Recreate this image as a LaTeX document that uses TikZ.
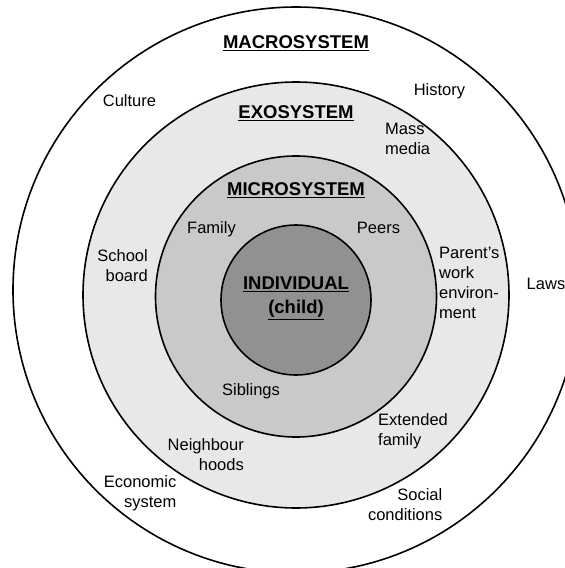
\documentclass[tikz,border=0pt]{standalone}
\usepackage{fontspec}
\setmainfont{Liberation Sans}
\usetikzlibrary{positioning}

\definecolor{exogray}{gray}{0.91}
\definecolor{microgray}{gray}{0.79}
\definecolor{indivgray}{gray}{0.57}

\begin{document}
\begin{tikzpicture}[x=1pt, y=-1pt,
        ring/.style={draw, line width=1.6pt},
        systitle/.style={font=\fontsize{18.5}{24}\selectfont\bfseries, inner sep=0pt, align=center},
        factor/.style={font=\fontsize{16.5}{20}\selectfont, inner sep=0pt, align=center}
    ]
        \useasboundingbox (0,0) rectangle (565,568);

        % Các vòng tròn
        \coordinate (cmacro) at (296,290);
        \coordinate (cexo) at (296,295);
        \coordinate (cmicro) at (296,296.5);
        \coordinate (cindiv) at (296,300);
        \draw[ring] (cmacro) circle[radius=283pt];
        \draw[ring, fill=exogray] (cexo) circle[radius=213pt];
        \draw[ring, fill=microgray] (cmicro) circle[radius=140.5pt];
        \draw[ring, fill=indivgray] (cindiv) circle[radius=75pt];

        % Tên các hệ
        \node[systitle] (macro) at (296,43) {\underline{MACROSYSTEM}};
        \node[systitle] (exo) at (296,113) {\underline{EXOSYSTEM}};
        \node[systitle] (micro) at (296,190.5) {\underline{MICROSYSTEM}};
        \node[systitle] (indiv) at (296,298.5) {\underline{INDIVIDUAL}\\\underline{(child)}};

        % Macrosystem
        \node[factor] (culture) at (129.5,101) {Culture};
        \node[factor] (history) at (439.5,91) {History};
        \node[factor] (laws) at (546,284) {Laws};
        \node[factor, anchor=east, align=right] (economic) at (176.5,493) {Economic\\system};
        \node[factor, anchor=east, align=right] (social) at (442.5,505) {Social\\conditions};

        % Exosystem
        \node[factor, anchor=west, align=left] (media) at (385,139) {Mass\\media};
        \node[factor, anchor=east, align=right] (school) at (148,265.5) {School\\board};
        \node[factor, anchor=west, align=left] (work) at (439,282.5) {Parent’s\\work\\environ-\\ment};
        \node[factor, anchor=west, align=left] (extended) at (378,431) {Extended\\family};
        \node[factor, anchor=east, align=right] (neighbour) at (244,455) {Neighbour\\hoods};

        % Microsystem
        \node[factor] (family) at (211.5,229) {Family};
        \node[factor] (peers) at (378.5,228) {Peers};
        \node[factor] (siblings) at (251,391) {Siblings};
    \end{tikzpicture}
\end{document}
